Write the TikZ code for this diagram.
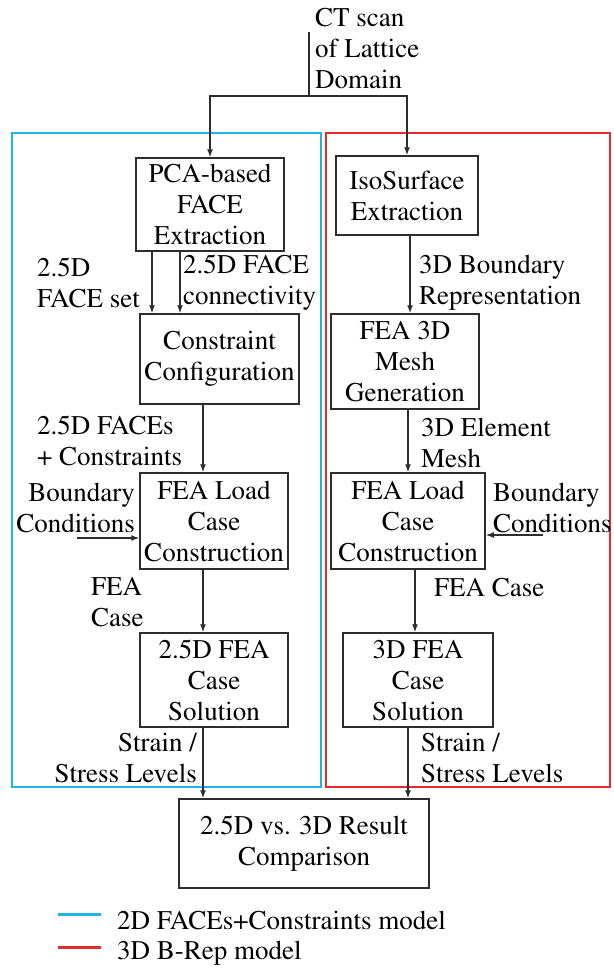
\documentclass[tikz,border=0pt]{standalone}
\usepackage[T1]{fontenc}
\usepackage{times}
\usetikzlibrary{arrows.meta}
\definecolor{frameblue}{RGB}{30,180,230}
\definecolor{framered}{RGB}{232,40,50}
\definecolor{ink}{RGB}{45,45,45}
\begin{document}
\begin{tikzpicture}[x=1pt,y=-1pt,
  txt/.style={font=\fontsize{27}{31}\selectfont, inner sep=0pt, text=black},
  box/.style={txt, draw=ink, line width=1.5pt, align=center},
  lbl/.style={txt, align=left, anchor=west},
  lblr/.style={txt, align=right, anchor=east},
  conn/.style={draw=ink, line width=1.4pt},
  arr/.style={conn, -{Latex[length=8pt,width=6pt]}},
  frame/.style={line width=2.2pt}]
\useasboundingbox (0,0) rectangle (613,971);
\fill[white] (0,0) rectangle (613,971);

% frames
\draw[frame, frameblue] (12,133) rectangle (321,787);
\draw[frame, framered] (326,133) rectangle (610,787);

% top text
\node[lbl] (ct) at (315,48) {CT scan\\of Lattice\\Domain};
\coordinate (ctTop) at (309,32);
\coordinate (split) at (309,96);

% boxes
\node[box, minimum width=148pt, minimum height=93pt] (pca) at (210,204.5) {PCA-based\\FACE\\Extraction};
\node[box, minimum width=142pt, minimum height=79pt] (iso) at (407,195.5) {IsoSurface\\Extraction};
\node[box, minimum width=159pt, minimum height=90pt] (con) at (219.5,359) {Constraint\\Configuration};
\node[box, minimum width=148pt, minimum height=95pt] (mesh) at (405,361.5) {FEA 3D\\Mesh\\Generation};
\node[box, minimum width=148pt, minimum height=96pt] (loadL) at (214,521) {FEA Load\\Case\\Construction};
\node[box, minimum width=154pt, minimum height=96pt] (loadR) at (408,521) {FEA Load\\Case\\Construction};
\node[box, minimum width=148pt, minimum height=94pt] (solL) at (214,680) {2.5D FEA\\Case\\Solution};
\node[box, minimum width=150pt, minimum height=94pt] (solR) at (418,680) {3D FEA\\Case\\Solution};
\node[box, minimum width=250pt, minimum height=89pt] (cmp) at (304,843.5) {2.5D vs. 3D Result\\Comparison};

% labels
\node[lbl] (l1) at (37,282.5) {2.5D\\FACE set};
\node[lbl] (l2) at (183,282.5) {2.5D FACE\\connectivity};
\node[lbl] (l3) at (419,282.5) {3D Boundary\\Representation};
\node[lbl] (l4) at (37,440.5) {2.5D FACEs\\+ Constraints};
\node[lbl] (l5) at (421,442.5) {3D Element\\Mesh};
\node[lblr] (l6) at (135,507.5) {Boundary\\Conditions};
\node[lbl] (l7) at (493,507.5) {Boundary\\Conditions};
\node[lbl] (l8) at (91,602) {FEA\\Case};
\node[lbl] (l9) at (434,587) {FEA Case};
\node[lblr] (l10) at (197,757.5) {Strain /\\Stress Levels};
\node[lbl] (l11) at (421,757.5) {Strain /\\Stress Levels};

% connector x positions
\coordinate (xa) at (152,0);
\coordinate (xb) at (180,0);
\coordinate (xL) at (203,0);
\coordinate (xi) at (410,0);
\coordinate (xm) at (408,0);
\coordinate (xr) at (415,0);
\coordinate (bcL) at (77,538);
\coordinate (bcR) at (543,535);

% connectors
\draw[conn] (ctTop) -- (split);
\draw[arr] (split) -| (pca.north);
\draw[arr] (split) -| (iso.north);
\draw[arr] (pca.south -| xa) -- (con.north -| xa);
\draw[arr] (pca.south -| xb) -- (con.north -| xb);
\draw[arr] (iso.south -| xi) -- (mesh.north -| xi);
\draw[arr] (con.south -| xL) -- (loadL.north -| xL);
\draw[arr] (mesh.south -| xm) -- (loadR.north -| xm);
\draw[arr] (bcL) -- (loadL.west |- bcL);
\draw[arr] (bcR) -- (loadR.east |- bcR);
\draw[arr] (loadL.south -| xL) -- (solL.north -| xL);
\draw[arr] (loadR.south -| xr) -- (solR.north -| xr);
\draw[arr] (solL.south -| xL) -- (cmp.north -| xL);
\draw[arr] (solR.south -| xm) -- (cmp.north -| xm);

% legend
\draw[frameblue, line width=3pt] (58,914) -- (101,914);
\draw[framered, line width=3pt] (58,947) -- (101,947);
\node[lbl] (lg1) at (117,920) {2D FACEs+Constraints model};
\node[lbl] (lg2) at (117,953) {3D B-Rep model};
\end{tikzpicture}
\end{document}
